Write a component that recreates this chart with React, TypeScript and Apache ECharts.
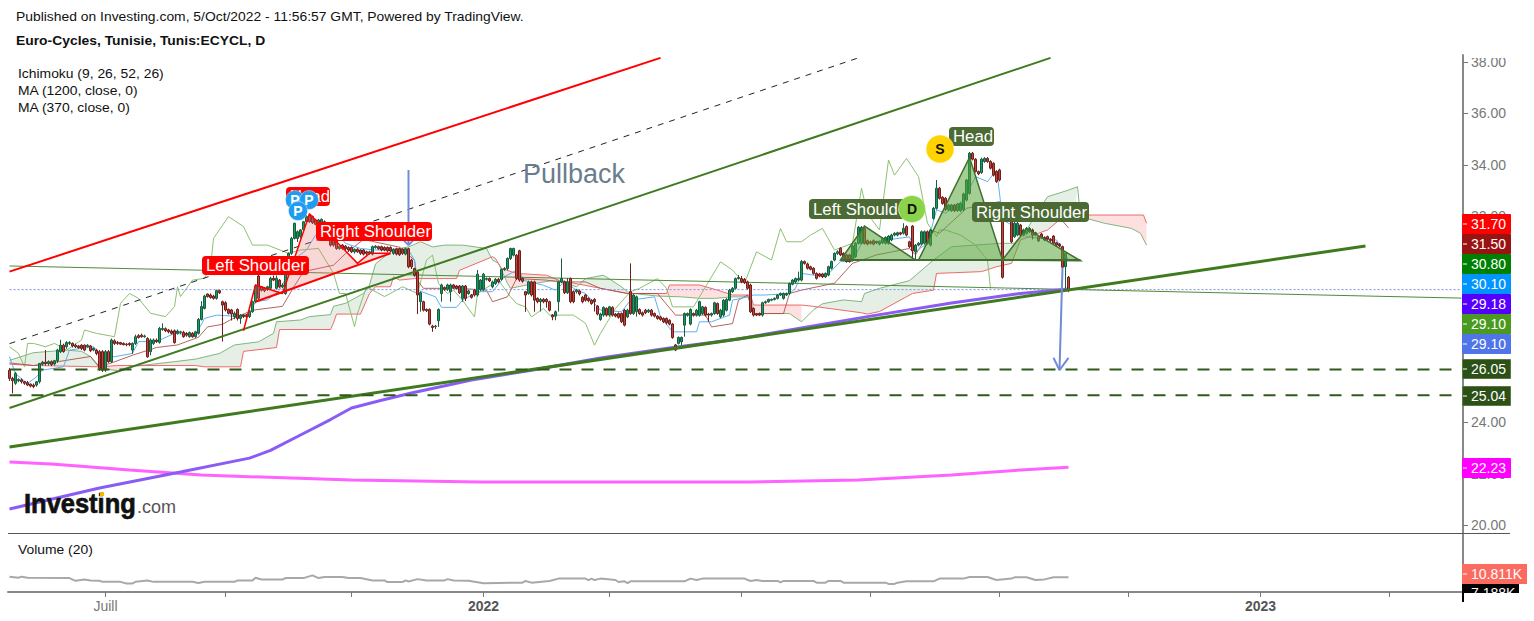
import React, { useEffect, useRef } from "react";
import * as echarts from "echarts";

// ---- x axis -----------------------------------------------------------
const SLOT_COUNT = 485;
const tickSlots = [32, 72, 114, 158, 200, 244, 287, 330, 373, 417, 460];
const slotLabels: Record<number, string> = { 32: "Juill", 158: "2022", 417: "2023" };

// ---- candles [open, close, low, high] ---------------------------------
const candles2021a = [
[26.02,25.7,25.6,26.1],[25.7,25.61,25.12,25.76],[25.51,25.89,25.45,25.95],[25.61,25.66,25.55,25.7],[25.64,25.57,25.5,25.7],[25.57,25.51,25.45,25.6],[25.53,25.44,25.4,25.6],[25.48,25.4,25.35,25.5],[25.44,25.38,25.32,25.5],[25.44,25.57,25.38,25.6],
[25.57,26.28,25.5,26.3],[26.26,26.33,26.2,26.38],[26.33,26.28,26.2,26.8],[26.28,26.35,26.2,26.4],[26.35,26.24,26.18,26.4],[26.26,26.39,26.2,26.42],[26.39,26.8,26.3,26.85],[26.74,26.99,26.68,27.2],[26.99,26.74,26.7,27.05],[26.93,27.09,26.85,27.15],
[27.06,27.09,27,27.15],[27.06,26.96,26.9,27.1],[26.99,26.93,26.88,27.05],[26.96,26.89,26.85,27],[26.99,26.87,26.8,27.03],[26.99,26.8,26.75,27.02],[26.93,26.99,26.9,27.03],[26.96,26.78,26.72,27],[26.8,26.87,26.75,26.9],[26.8,26.67,26.6,26.85],
[26.74,26.09,26,26.8],[26.74,26.02,25.95,26.8],[26.02,26.74,25.95,26.8],[26.74,26.35,26.3,26.8],[26.35,27.19,26.3,27.25],[27.16,27.06,27,27.22],[27.1,27.06,27,27.15],[27.09,27.03,27,27.12],[27.06,27.01,26.98,27.1],[27.03,27.01,26.95,27.08],
[27.06,27.01,26.95,27.1],[26.8,27.06,26.65,27.1],[27.06,27.32,27,27.4],[27.36,27.29,27.25,27.42],[27.38,27.32,27.28,27.44],[27.32,27.35,27.28,27.4],[27.25,26.54,26.5,27.3],[26.74,27.19,26.6,27.25],[27.06,27.19,27,27.25],[27.19,27.13,27.08,27.25],
[27.1,27.64,27.05,27.7],[27.6,27.64,27.55,27.84],[27.63,27.55,27.5,27.68],[27.58,27.51,27.45,27.62],[27.54,27.45,27.4,27.6],[27.55,27.09,27.05,27.6],[27.45,27.54,27.4,27.6],[27.49,27.51,27.42,27.55],[27.49,27.32,27.28,27.55],[27.45,27.38,27.32,27.5],
[27.32,27.48,27.28,27.52],[27.45,27.32,27.28,27.5],[27.32,27.51,27.28,27.55],[27.45,27.99,27.4,28.05],[27.99,28.49,27.95,28.7],[28.42,28.9,28.38,28.95],[28.98,28.88,28.84,29],[28.94,28.84,28.8,29],[28.9,28.81,28.76,28.95],[28.81,29.11,28.76,29.15],
[29.11,29.03,28.98,29.15],[28.68,28.55,27.13,28.72],[28.64,28.36,28.3,28.7],[28.38,28.23,28.18,28.42],[28.36,28.2,27.95,28.4],[28.1,28.23,28,28.3],[28.38,28.03,27.95,28.42],[28.03,28.16,27.82,28.2],[28.16,28.1,28.05,28.2],[28.15,28.1,28.05,28.2],
[28.1,28.29,28.05,28.35],[28.29,28.68,28.25,28.72],[28.68,29.29,28.62,29.35],[29.68,28.81,28.75,29.72],[29.26,29.13,29.08,29.3],[29.2,29.11,29.05,29.25],[29.16,29.26,29.1,29.3],[29.2,29.59,29.15,29.65],[29.59,29.52,29.48,29.7],[29.2,29.59,29.15,29.7],
[29.52,29.26,29.2,29.56],[29.26,29.33,29.2,29.4],[29,29.98,28.95,30.02],[29.98,30.56,29.95,30.6],[30.56,31.14,30.5,31.2],[31.14,31.73,31.1,31.75],[31.14,31.4,31,31.45],[31.21,31.47,31.15,31.5],[31.49,31.79,31.45,31.82],[31.79,31.99,31.75,32.05],
[32.05,31.79,31.75,32.1],[31.99,31.75,31.7,32.03],[31.86,31.69,31.65,31.9],[31.73,31.86,31.68,31.9],[31.73,31.88,31.68,31.92],[31.79,31.6,31.55,31.84],[31.6,31.27,31.22,31.65],[31.34,30.88,30.82,31.38],[31.14,30.88,30.82,31.18],[31.14,30.75,30.7,31.18],
[30.75,30.84,30.7,30.88],[30.88,30.75,30.7,30.92],[30.84,30.74,30.68,30.88],[30.79,30.69,30.62,30.83],[30.79,30.62,30.57,30.83],[30.62,30.72,30.55,30.75],[30.72,30.62,30.58,30.76],[30.69,30.56,30.5,30.72],[30.69,30.53,30.48,30.73],[30.62,30.56,30.5,30.66],
];
const candles2021b = [
[30.56,30.62,30.5,30.66],[30.53,30.82,30.48,30.86],[30.79,30.84,30.74,30.88],[30.82,30.74,30.7,30.86],[30.82,30.69,30.64,30.86],[30.79,30.69,30.64,30.83],[30.79,30.66,30.6,30.83],[30.79,30.65,30.6,30.83],[30.56,30.72,30.5,30.76],[30.74,30.53,30.48,30.78],
[30.74,30.51,30.46,30.78],[30.72,30.56,30.5,30.76],[30.53,30.74,30.48,30.78],[30.74,30.04,29.98,30.78],[30.3,30.04,29.95,30.35],[29.97,29.71,29.65,30],[29.84,28.94,28.2,29.9],[28.68,29.03,28.29,29.08],[28.68,28.35,28.3,28.72],[28.38,28.33,28.28,28.42],
[28.38,27.81,27.76,28.42],[27.73,27.68,27.51,27.78],[27.71,27.73,27.62,27.78],[27.94,28.38,27.7,28.42],[29,29.33,28.68,29.38],[29.23,29.16,29.1,29.27],[29.16,29.33,29.1,29.38],[29.07,29.33,28.68,29.38],[29.33,29.23,29.18,29.37],[29.29,29.2,29.15,29.33],
[29.29,29.03,28.98,29.33],[28.81,29.29,28.68,29.33],[29.29,28.81,28.7,29.33],[29,29.1,28.95,29.15],[28.94,28.85,28.8,28.98],[29.13,28.94,28.88,29.17],[28.94,29.75,28.88,29.91],[29.16,29.52,29.1,29.56],[29.16,29.75,29.1,29.8],[29.55,29.58,29.5,29.62],
[29.58,29.49,29.45,29.62],[29.26,29.45,29.2,29.5],[29.39,29.55,29.33,29.6],[29.55,29.45,29.4,29.6],[29.55,29.93,29.5,29.97],[29.93,29.97,29.88,30.02],[29.97,30.36,29.9,30.4],[30.36,30.75,30.3,30.78],[30.49,30.75,30.44,30.78],[30.49,29.58,29.52,30.53],
[30.66,29.52,29.46,30.7],[29.58,29.48,29.42,29.62],[29.07,28.94,28.29,29.1],[29,29.45,28.95,29.5],[29.45,28.94,28.88,29.5],[29.45,28.74,28.29,29.5],[28.81,28.68,28.62,28.85],[28.68,28.77,28.3,28.82],[28.77,28.68,28.62,28.82],[28.77,28.68,28.45,28.82],
];
const candles2022a = [
[28.68,28.35,28.3,28.72],[28.16,28.09,27.96,28.2],[28.12,28.29,27.96,28.34],[28.68,29.45,28.3,29.5],[29.45,29.58,29.4,30.36],[29.45,29.03,28.98,29.5],[29.03,29.45,28.98,29.6],[29.58,28.68,28.62,29.62],[29.07,28.68,28.62,29.12],[29.07,29.13,29,29.18],
[29.1,28.98,28.92,29.15],[28.85,28.68,28.62,28.9],[28.94,28.74,28.68,28.98],[28.81,28.72,28.66,28.85],[28.74,28.61,28.56,28.78],[28.77,28.68,28.3,28.82],[28.51,28.2,28.15,28.55],[27.99,28.2,27.94,28.25],[28.16,28.46,28.1,28.5],[28.42,28.16,28.1,28.46],
[28.16,28.48,28.1,28.52],[28.46,28.16,28.1,28.5],[28.2,28.12,28.07,28.24],[28.22,28.07,28.02,28.26],[28.22,27.9,27.85,28.26],[28.35,27.77,27.72,28.4],[28.09,28.35,28.04,28.4],[29.07,28.22,28.17,30.17],[28.22,28.94,28.17,28.98],[28.29,28.87,28.1,28.92],
[28.38,28.22,28.17,28.42],[28.25,28.16,28.1,28.3],[28.35,28.25,28.2,28.4],[28.29,28.35,28.24,28.4],[28.35,28.16,28.1,28.4],[28.22,28.12,28.07,28.26],[28.12,28.03,27.98,28.16],[28.09,27.99,27.94,28.13],[28.03,27.9,27.85,28.07],[28.03,27.86,27.8,28.07],
[27.96,27.81,27.76,28],[27.81,27.29,27.24,27.85],[27,26.8,26.76,27.04],[27.06,27.29,27.02,27.33],[27.12,27.29,27,27.33],[27.77,28.22,27.32,28.26],[28.16,28.22,28.1,28.26],[27.81,28.38,27.76,28.42],[28.22,28.16,28.1,28.26],[28.16,28.35,28.1,28.4],
[28.16,28.68,28.1,28.72],[28.22,28.48,28.17,28.52],[28.46,28.16,28.1,28.5],[28.2,28.16,27.9,28.25],[28.16,28.22,28.1,28.26],[28.22,28.64,28.17,28.68],[28.61,28.22,28.17,28.65],[28.09,28.35,28.04,28.4],[28.16,28.74,28.1,28.78],[28.35,28.77,28.3,28.82],
[28.74,29.13,28.7,29.18],[29.07,29.2,29.02,29.25],[29.2,29.58,29.15,29.62],[29.58,29.62,29.54,29.72],[29.58,29.45,29.4,29.68],[29.55,29.42,29.37,29.6],[29.45,29.2,29.15,29.5],[29.33,28.29,28.24,29.38],[28.42,28.16,28.1,28.46],[28.2,28.16,28.12,28.24],
[28.22,28.16,28.12,28.26],[28.16,28.64,28.1,28.68],[28.64,28.68,28.6,28.72],[28.68,28.77,28.64,28.8],[28.74,28.77,28.7,28.8],[28.77,28.81,28.73,28.85],[28.81,28.94,28.77,28.98],[28.94,29,28.9,29.04],[28.81,29,28.76,29.04],[28.94,29,28.9,29.04],
[29,29.39,28.95,29.43],[29.36,29.52,29.32,29.56],[29.45,29.58,29.4,29.62],[29.52,29.58,29.48,29.85],
];
const candles2022b = [
[29.52,30.24,29.47,30.3],[30.24,30.17,30.12,30.28],[30.15,29.98,29.93,30.2],[30.04,29.94,29.9,30.08],[29.98,29.78,29.73,30.02],[29.78,29.59,29.54,29.82],[29.76,29.68,29.63,29.8],[29.76,29.65,29.6,29.8],[29.65,29.78,29.6,29.82],[29.72,30.04,29.67,30.08],
[29.98,30.24,29.93,30.28],[30.3,30.56,30.25,30.6],[30.56,30.62,30.5,30.68],[30.76,30.5,30.45,30.8],[30.56,30.3,30.25,30.6],[30.5,30.24,30.2,30.54],[30.5,30.24,30.2,30.54],[30.3,30.85,30.25,30.9],[30.43,30.95,30.38,31],[30.95,31.57,30.9,31.62],
[30.95,31.57,30.9,31.62],[31.53,30.95,30.9,31.58],[31.05,30.92,30.87,31.1],[31.01,30.95,30.9,31.06],[31.05,30.92,30.87,31.1],[31.01,30.97,30.92,31.05],[30.92,31.01,30.87,31.05],[30.97,31.14,30.92,31.18],[30.95,31.18,30.9,31.22],[30.95,31.23,30.9,31.27],
[31.08,31.27,31.03,31.32],[31.27,31.34,31.22,31.38],[31.27,31.36,31.22,31.4],[31.36,31.31,31.26,31.4],[31.34,31.53,31.29,31.73],[31.6,31.27,31.22,31.65],[31.01,30.82,30.77,31.05],[31.62,30.66,30.3,31.66],[30.62,30.88,30.3,30.92],[30.88,30.95,30.83,31],
[30.92,31.4,30.87,31.45],[30.95,31.4,30.9,31.45],[31.4,30.95,30.9,31.45],[30.88,31.47,30.83,31.52],[31.92,32.31,31.87,32.36],[32.31,33.09,32.26,33.41],[33.09,32.7,32.65,33.14],[32.74,32.5,32.45,32.78],[32.7,32.27,32.2,32.75],[32.25,32.44,32.2,32.48],
[32.22,32.44,32.17,32.48],[32.44,32.22,32.17,32.48],[32.22,32.48,32.17,32.52],[32.22,32.5,32.17,32.55],[32.25,32.87,32.2,32.92],[32.63,33.41,32.58,33.45],[32.89,34.45,32.84,34.5],[34.45,34.22,34.17,34.5],[34.22,33.74,33.7,34.26],[33.74,33.65,33.6,33.78],
[33.7,34.22,33.65,34.28],[34.13,34.25,34.08,34.3],[34.25,34.13,34.08,34.3],[34.13,33.87,33.82,34.18],[34.06,33.6,33.55,34.1],[33.74,33.35,33.3,33.78],[33.8,33.41,33.36,33.85],[32.31,29.63,29.58,32.35],[32.31,32.05,32,32.35],[32.05,31.86,31.8,32.1],
[31.86,31.01,30.96,31.9],[31.21,31.73,31.16,31.78],[31.27,31.73,31.22,31.78],[31.66,31.27,31.22,31.7],[31.27,31.47,31.22,31.52],[31.34,31.53,31.29,31.58],[31.4,31.53,31.35,31.58],[31.47,31.27,31.1,31.52],[31.27,31.36,31.22,31.4],[31.21,31.05,31,31.25],
[31.31,31.18,31.13,31.35],[31.18,31.08,31.03,31.22],[31.21,31.11,31.06,31.25],[31.11,31.05,31,31.15],[31.23,30.95,30.9,31.27],[30.97,30.88,30.83,31.01],[30.92,30.85,30.8,30.96],[30.82,30.02,29.97,30.86],[30.04,30.56,29.2,30.6],[29.63,29.14,29.05,29.68],
];

// ---- Ichimoku vertices [slot, price] ----------------------------------
const laggingSpan = [[0,26.93],[3,26.67],[5,26.15],[6,27.06],[8,27.06],[12,26.93],[15,27.06],[19,26.8],[24,27.19],[25,27.58],[29,27.45],[35,27.32],[37,28.62],[40,29],[43,28.81],[47,28.23],[52,28.1],[55,28.49],[56,29.26],[57,28.88],[61,29.52],[65,29.59],[67,30.04],[68,31.14],[73,31.99],[78,31.6],[81,30.88],[86,30.88],[93,30.56],[97,30.69],[103,30.75],[108,29.78],[110,29],[112,29],[115,27.71],[116,28.23],[119,29.26],[125,28.88],[131,29.26],[136,29],[139,30.3],[141,30.49],[143,29.39],[146,29],[148,29.13],[151,28.74],[155,28.09],[156,29],[163,29.52],[167,28.87],[169,28.61],[172,28.48],[174,28.09],[178,28.42],[180,28.16],[188,28.16],[192,27.84],[195,26.99],[197,27.45],[199,27.84],[202,28.42],[207,29.07],[210,29.2],[216,29.58],[219,29.2],[221,28.48],[228,28.48],[233,29.45],[237,30.23],[241,29.91],[245,29.39],[249,30.62],[254,30.3],[257,31.53],[259,31.01],[264,31.01],[267,31.27],[271,31.53],[275,30.69],[281,30.95],[284,33.09],[286,32.1],[290,31.47],[293,34.19],[295,33.6],[299,34.25],[303,33.54],[306,31.73],[309,31.21],[310,31.47],[312,31.47],[317,31.27],[322,30.88],[326,30.3],[327,29.2]];
const conversionLine = [[0,26.54],[2,25.88],[6,25.5],[9,25.76],[11,26.02],[18,26.15],[20,26.8],[28,26.93],[30,26.67],[35,26.54],[41,26.67],[43,27.13],[49,27.13],[55,27.45],[62,27.38],[65,28.03],[69,28.16],[77,28.1],[80,28.23],[82,28.68],[86,28.75],[90,29.13],[96,30.43],[99,30.69],[102,31.27],[108,31.47],[112,30.95],[117,30.75],[122,30.69],[133,30.69],[135,30.3],[136,29.13],[142,28.87],[144,28.46],[149,28.46],[151,28.74],[156,29.07],[161,29.07],[165,29.65],[170,29.97],[171,29.52],[178,29.32],[182,29.13],[185,29.45],[189,29.13],[192,29],[197,28.35],[204,28.29],[207,28.74],[215,28.87],[217,28.09],[221,27.51],[229,27.51],[230,27.9],[234,27.9],[240,28.16],[241,28.74],[246,28.87],[248,28.94],[252,28.94],[260,29],[262,29.2],[264,29.78],[272,29.65],[277,30.24],[281,30.24],[284,30.95],[300,31.2],[302,30.63],[306,30.95],[309,32.25],[312,32.12],[318,32.63],[322,33.54],[326,33.35],[329,33.8],[330,32.9],[331,31.86],[335,31.6],[339,31.2],[349,31.08],[353,30.3]];
const baseLine = [[0,26.3],[8,26.2],[27,26.55],[30,26.15],[34,26.3],[41,26.6],[49,26.9],[56,27],[63,27.3],[66,27.7],[71,27.8],[74,28],[81,28.35],[91,28.5],[95,29.3],[98,29.85],[108,30.1],[112,30.55],[118,31.1],[130,30.8],[135,30.3],[136,29.5],[138,29.2],[150,29.2],[159,29.13],[161,28.68],[166,28.87],[169,29.58],[179,29.52],[183,29.45],[192,29.45],[197,29.2],[206,29],[216,29],[222,28.16],[232,28.16],[234,27.7],[241,27.83],[243,28.74],[246,28.94],[248,28.22],[258,28.22],[260,29],[264,29.13],[275,29.4],[281,30.17],[289,30.5],[300,30.75],[302,30.5],[307,31.47],[310,31.34],[319,32.31],[330,32.57],[334,31.99],[344,31.98],[350,31.95],[353,31.55]];
const leadingSpanA = [[0,26.4],[8,26.7],[19,26.8],[24,26.75],[27,26.55],[30,26.1],[36,26],[40,26.15],[55,26.35],[62,26.45],[70,26.67],[75,27],[83,27.12],[88,27.45],[89,27.9],[97,27.97],[100,28.1],[107,28.18],[108,28.5],[112,28.62],[118,29],[120,29.33],[122,30.15],[127,30.62],[130,30.75],[133,30.81],[137,31.01],[141,30.81],[145,30.88],[151,30.88],[159,30.75],[161,30.3],[163,30.17],[166,29.39],[167,29.2],[175,29.39],[182,29.52],[189,29.26],[192,29.58],[198,29.71],[204,29.26],[206,29.07],[208,29],[216,28.9],[224,28.87],[230,28.81],[235,28.81],[241,28.87],[247,28.87],[248,28.22],[260,28.22],[264,27.9],[268,28.36],[271,28.6],[278,28.75],[284,28.68],[285,29],[290,29.2],[300,29.5],[308,30.3],[314,30.82],[322,30.88],[330,30.95],[335,30.95],[339,31.47],[346,32.76],[353,33.02],[356,33.15],[357,31.98],[365,31.73],[374,31.53],[377,31.34],[379,30.88]];
const leadingSpanB = [[0,26.25],[8,26.2],[30,26.15],[36,26.2],[62,26.2],[65,26.15],[77,26.15],[78,26.75],[89,26.9],[90,27.6],[107,27.6],[108,27.85],[109,28.2],[117,28.2],[120,29],[122,29.26],[127,29.26],[128,29.65],[130,29.52],[135,29.58],[149,29.58],[150,29.9],[161,30.43],[162,30.36],[164,29.97],[169,29.78],[179,29.71],[183,29.52],[186,29.45],[197,29.2],[206,29],[208,29],[219,29],[220,29.33],[230,29.33],[236,29.13],[241,28.94],[247,28.94],[248,28.55],[264,28.55],[268,28.5],[284,28.25],[286,28.2],[290,28.3],[301,29],[308,29.13],[309,29.78],[324,29.85],[329,30.04],[334,30.17],[337,31.08],[346,31.47],[350,31.86],[355,32.05],[357,32.05],[378,32.05],[379,31.73]];
const cloudGreenRanges = [[0, 30], [40, 163], [183, 206], [266, 356]];
const cloudRedRanges = [[30, 40], [163, 183], [206, 266], [357, 379]];

// ---- moving averages, volume ------------------------------------------
const ma1200 = [[0,20.62],[30,21.44],[57,22.06],[80,22.6],[87,22.9],[97,23.5],[107,24.1],[114,24.55],[124,24.85],[134,25.13],[154,25.64],[174,26.02],[197,26.49],[220,26.88],[243,27.23],[263,27.64],[287,28.12],[314,28.63],[337,29],[353,29.17]];
const ma370 = [[0,22.45],[14,22.37],[40,22.14],[64,21.94],[114,21.75],[157,21.67],[247,21.67],[283,21.75],[314,21.94],[337,22.14],[353,22.25]];
const volumeMa = [[0,11.8],[3,11],[4,11.8],[6,10.9],[20,10.7],[22,8.6],[25,9.6],[27,8.9],[30,8.6],[31,7.8],[37,7.8],[39,6.6],[41,6.6],[42,7.8],[46,8.9],[48,7.8],[61,7.8],[63,7],[65,7.8],[75,7.8],[76,8.9],[81,8.9],[82,10.9],[84,9.6],[91,9.6],[92,10.7],[98,10.7],[101,12.8],[103,10.7],[105,11.6],[111,11.6],[113,10.7],[117,10.7],[121,8.9],[125,8.9],[126,7.6],[131,7.6],[132,8.9],[133,8.1],[136,9.9],[139,8.9],[145,8.9],[146,9.9],[148,8.9],[153,8.6],[158,6.8],[163,7],[171,7.2],[172,8.5],[174,7.2],[180,8.5],[183,10.3],[192,10.3],[193,9.2],[194,10.3],[195,9.2],[197,10.3],[202,9.2],[203,7.7],[205,8.2],[206,6.9],[207,8.2],[225,8.2],[227,10.3],[229,9.2],[231,10.3],[245,10.3],[247,8.5],[249,9.2],[251,8.5],[256,8.5],[257,7.4],[258,8.5],[268,8.5],[269,7.2],[272,7.2],[273,8.5],[277,8.5],[278,7.2],[292,7.2],[293,6.2],[295,6.2],[296,7.2],[299,8.2],[308,8.2],[310,10.3],[318,10.3],[320,11.5],[326,11.5],[329,9.2],[334,10.3],[335,11.3],[339,11.3],[342,9.2],[345,9.7],[348,11.3],[353,11.3]];

// ---- drawings ---------------------------------------------------------
const redTrend = [[0,29.85],[217,38.16]];
const blackDashed = [[0,27.05],[283,38.16]];
const greenChannel = [[0,24.55],[347,38.16]];
const thinGreen = [[0,30.07],[484,28.82]];
const thickGreen = [[0,23.03],[452,30.85]];
const support1 = [[0,26.05],[484,26.05]];
const support2 = [[0,25.04],[484,25.04]];
const lastPrice = [[0,29.15],[484,29.15]];
const arrow1 = [[133,33.8],[133,30.88]];
const arrow1Head = [[130,31.23],[133,30.88],[136,31.23]];
const arrow2 = [[351,30.0],[350,26.02]];
const arrow2Head = [[348,26.5],[350,26.02],[353,26.5]];

const redShoulderL = [[82,29.33],[91,29],[82,28.68]];
const redHeadShape = [[91,29],[100,32.1],[116,30.17]];
const redShoulderR = [[116,30.17],[120,30.56],[127,30.56]];
const redRise = [[78,27.55],[82,29.33],[91,29],[100,32.1],[116,30.17],[120,30.56],[127,30.56]];
const redNeck = [[82,28.68],[127,30.56]];
const greenShoulderL = [[277,30.3],[285,31.62],[302,30.3]];
const greenHeadShape = [[303,30.3],[320,34.29],[331,30.3]];
const greenShoulderR = [[331,30.3],[339,31.53],[357,30.27]];
const greenNeck = [[277,30.3],[357,30.3]];

const allCandles = [...candles2021a, ...candles2021b, ...candles2022a, ...candles2022b];
const categories = Array.from({ length: SLOT_COUNT }, (_, i) => slotLabels[i] ?? "");
const FONT = "'Liberation Sans', Arial, sans-serif";

const line = (data: number[][], color: string, width = 1, z = 5, type: any = "solid", opacity = 1, ax = 0) => ({
  type: "line", data, xAxisIndex: ax, yAxisIndex: ax, showSymbol: false, symbol: "none", silent: true, z,
  lineStyle: { color, width, type, opacity, cap: "butt" },
});

const polygon = (pts: number[][], fill: string, stroke: string | null, z: number, lineWidth = 1.5) => ({
  type: "custom", xAxisIndex: 0, yAxisIndex: 0, silent: true, z, data: [[pts[0][0], pts[0][1]]],
  renderItem: (_: any, api: any) => ({
    type: "polygon",
    shape: { points: pts.map((p) => api.coord(p)) },
    style: { fill, stroke: stroke ?? "none", lineWidth },
  }),
});

const cloudShape = (from: number, to: number, fill: string) => {
  const inside = (p: number[]) => p[0] >= from && p[0] <= to;
  return polygon([...leadingSpanA.filter(inside), ...leadingSpanB.filter(inside).reverse()], fill, null, 1);
};

const priceTags = [
  ["31.70", 214, "#ff0000", "#ff0000"], ["31.50", 234, "#9a1313", "#9a1313"], ["30.80", 254, "#008000", "#008000"], ["30.10", 274, "#0094ff", "#0094ff"],
  ["29.18", 294, "#5500ff", "#5500ff"], ["29.10", 314, "#4a9a1f", "#4a9a1f"], ["29.10", 334, "#4f75e8", "#4f75e8"], ["26.05", 359, "#2c5016", "#567a40"],
  ["25.04", 386, "#2c5016", "#567a40"], ["22.23", 458, "#ff00ff", "#ff00ff"],
] as [string, number, string, string][];

const WIDE = 1.068;
const txt = (text: string, x: number, y: number, font: string, fill: string, scaleX = 1) => ({
  type: "text", x, y, z: 100, scaleX, style: { text, font, fill, textVerticalAlign: "middle" },
});

const tag = (text: string, x: number, y: number, w: number, h: number, fill: string, z = 90) => [
  { type: "rect", z, shape: { x, y, width: w, height: h, r: 4 }, style: { fill } },
  { type: "text", z: z + 1, x: x + 4, y: y + h / 2, style: { text, font: `16.8px ${FONT}`, fill: "#fff", textVerticalAlign: "middle" } },
];

const disc = (ch: string, x: number, y: number, r: number, fill: string, color: string, size: number, z: number) => [
  { type: "circle", z, shape: { cx: x, cy: y, r }, style: { fill, stroke: "rgba(255,255,255,0.4)", lineWidth: 1 } },
  { type: "text", z: z + 1, x, y, style: { text: ch, font: `bold ${size}px ${FONT}`, fill: color, textAlign: "center", textVerticalAlign: "middle" } },
];

export default function App() {
  const ref = useRef<HTMLDivElement>(null);
  useEffect(() => {
    const chart = echarts.init(ref.current!, undefined, { renderer: "svg" });
    const graphics: any[] = [
      txt("Published on Investing.com, 5/Oct/2022 - 11:56:57 GMT, Powered by TradingView.", 16, 17, `13px ${FONT}`, "#111", WIDE),
      txt("Euro-Cycles, Tunisie, Tunis:ECYCL, D", 16, 41, `bold 13px ${FONT}`, "#111", WIDE),
      txt("Ichimoku (9, 26, 52, 26)", 18, 74, `13px ${FONT}`, "#111", WIDE),
      txt("MA (1200, close, 0)", 18, 91, `13px ${FONT}`, "#111", WIDE),
      txt("MA (370, close, 0)", 18, 108, `13px ${FONT}`, "#111", WIDE),
      txt("Volume (20)", 18, 550, `13px ${FONT}`, "#111", WIDE),
      txt("Pullback", 523, 174, `27px ${FONT}`, "#6a7d8e"),
      { type: "text", z: 100, x: 24, y: 504, scaleX: 0.91, style: { text: "Investing", font: `bold 28px ${FONT}`, fill: "#111", stroke: "#111", lineWidth: 0.7, textVerticalAlign: "middle" } },
      txt(".com", 137, 507, `18px ${FONT}`, "#555"),
      { type: "rect", z: 101, shape: { x: 100, y: 492, width: 4, height: 4 }, style: { fill: "#f5b800" } },
      { type: "line", z: 50, shape: { x1: 8, y1: 533.5, x2: 1510, y2: 533.5 }, style: { stroke: "#555", lineWidth: 1 } },
      { type: "rect", z: 60, shape: { x: 1466, y: 48, width: 60, height: 10 }, style: { fill: "#fff" } },
      ...tag("Left Shoulder", 202, 256, 107, 19, "#ff0000"),
      ...tag("Head", 286, 187, 44, 19, "#ff0000"),
      ...tag("Right Shoulder", 316, 222, 116, 19, "#ff0000"),
      ...tag("Left Shoulder", 809, 199, 112, 20, "#4c6b34"),
      ...tag("Head", 949, 127, 45, 19, "#4c6b34"),
      ...tag("Right Shoulder", 972, 202, 117, 20, "#4c6b34"),
      ...disc("P", 295, 200, 9.5, "#1f9cf0", "#fff", 14, 93),
      ...disc("P", 309, 200, 9.5, "#1f9cf0", "#fff", 14, 93),
      ...disc("P", 298, 211, 9.5, "#1f9cf0", "#fff", 14, 95),
      ...disc("D", 912, 209, 13.5, "#8bd44a", "#111", 14, 93),
      ...disc("S", 940, 149, 14, "#ffd200", "#111", 14, 93),
    ];
    priceTags.forEach(([label, y, fill, edge]) => {
      graphics.push(
        { type: "rect", z: 110, shape: { x: 1462.5, y: y + 0.5, width: 48, height: 19 }, style: { fill, stroke: edge, lineWidth: 1 } },
        { type: "line", z: 111, shape: { x1: 1463, y1: y + 10, x2: 1467, y2: y + 10 }, style: { stroke: "#fff", lineWidth: 1 } },
        { type: "text", z: 111, x: 1471, y: y + 10, style: { text: label, font: `14px ${FONT}`, fill: "#fff", textVerticalAlign: "middle" } },
      );
    });
    graphics.push(
      { type: "rect", z: 110, shape: { x: 1462, y: 584, width: 57, height: 18 }, style: { fill: "#000" } },
      { type: "text", z: 111, x: 1471, y: 593, style: { text: "7.188K", font: `14px ${FONT}`, fill: "#fff", textVerticalAlign: "middle" } },
      { type: "rect", z: 112, shape: { x: 1464, y: 593, width: 70, height: 9 }, style: { fill: "#fff" } },
      { type: "rect", z: 112, shape: { x: 1462, y: 564, width: 65, height: 20 }, style: { fill: "#fb6b5f" } },
      { type: "line", z: 113, shape: { x1: 1463, y1: 574, x2: 1467, y2: 574 }, style: { stroke: "#fff", lineWidth: 1 } },
      { type: "text", z: 113, x: 1471, y: 574, style: { text: "10.811K", font: `14px ${FONT}`, fill: "#fff", textVerticalAlign: "middle" } },
    );

    chart.setOption({
      animation: false,
      backgroundColor: "#fff",
      grid: [
        { left: 8, width: 1455, top: 55, height: 478 },
        { left: 8, width: 1455, top: 534, height: 58 },
      ],
      xAxis: [
        { type: "category", gridIndex: 0, data: categories, show: false },
        {
          type: "category", gridIndex: 1, data: categories, position: "bottom",
          axisLine: { show: true, lineStyle: { color: "#888", width: 2 } },
          axisTick: { show: true, alignWithLabel: true, length: 5, lineStyle: { color: "#777" }, interval: (i: number) => tickSlots.includes(i) },
          axisLabel: {
            color: "#777", fontSize: 14, fontFamily: "Liberation Sans", margin: 7,
            interval: (i: number) => !!slotLabels[i], hideOverlap: false,
            formatter: (v: string) => (v.startsWith("20") ? `{b|${v}}` : v),
            rich: { b: { fontWeight: "bold", fontSize: 14, color: "#555", fontFamily: "Liberation Sans" } },
          },
          splitLine: { show: false },
        },
      ],
      yAxis: [
        {
          type: "value", gridIndex: 0, position: "right", min: 19.69, max: 38.27, scale: true,
          axisLine: { show: true, lineStyle: { color: "#888", width: 2 } },
          axisTick: { show: true, length: 5, lineStyle: { color: "#777" }, customValues: [20, 22, 24, 26, 28, 30, 32, 34, 36, 38] },
          axisLabel: {
            color: "#777", fontSize: 14, fontFamily: "Liberation Sans", margin: 8,
            customValues: [20, 22, 24, 26, 28, 30, 32, 34, 36, 38],
            formatter: (v: number) => v.toFixed(2),
          },
          splitLine: { show: false },
        },
        {
          type: "value", gridIndex: 1, position: "right", min: 0, max: 44.6,
          axisLine: { show: true, lineStyle: { color: "#888", width: 2 } },
          axisTick: { show: false }, axisLabel: { show: false }, splitLine: { show: false },
        },
      ],
      series: [
        ...cloudGreenRanges.map(([a, b]) => cloudShape(a, b, "rgba(70,140,70,0.14)")),
        ...cloudRedRanges.map(([a, b]) => cloudShape(a, b, "rgba(255,70,70,0.17)")),
        line(leadingSpanA, "#7fb77e", 1, 2),
        line(leadingSpanB, "#ee6a6a", 1, 2),
        line(laggingSpan, "#8dc070", 1, 3),
        line(baseLine, "#a84a45", 1, 3, "solid", 0.85),
        line(conversionLine, "#5db1f0", 1, 3),
        line(lastPrice, "#7f93e6", 1, 4, [2, 2]),
        line(thinGreen, "#4f8a3a", 1, 4),
        line(ma370, "#ff62ff", 3, 4),
        line(ma1200, "#8a5cf6", 3, 4),
        {
          type: "candlestick", xAxisIndex: 0, yAxisIndex: 0, data: allCandles, barWidth: 3, silent: true, z: 6,
          itemStyle: { color: "#0f9d63", color0: "#c0453f", borderColor: "#1c5c3e", borderColor0: "#6f1f1a", borderWidth: 1 },
        },
        line(redTrend, "#ff0000", 2, 7),
        line(blackDashed, "#222222", 1, 7, [6, 6]),
        line(greenChannel, "#3f7a1f", 2, 7),
        line(thickGreen, "#3f7a1f", 3, 7),
        line(support1, "#2f5a1a", 2, 7, [12, 10]),
        line(support2, "#2f5a1a", 2, 7, [12, 10]),
        polygon(redShoulderL, "rgba(230,110,110,0.28)", null, 8),
        polygon(redHeadShape, "rgba(230,110,110,0.28)", null, 8),
        polygon(redShoulderR, "rgba(230,110,110,0.28)", null, 8),
        line(redRise, "#ff0000", 1.5, 9),
        line(redNeck, "#ff0000", 2, 9),
        polygon(greenShoulderL, "rgba(90,165,60,0.55)", "#3f6f2e", 8),
        polygon(greenHeadShape, "rgba(90,165,60,0.55)", "#3f6f2e", 8),
        polygon(greenShoulderR, "rgba(90,165,60,0.55)", "#3f6f2e", 8),
        line(greenNeck, "#3f6f2e", 2, 9),
        line(arrow1, "#6f8cd6", 2, 10),
        line(arrow1Head, "#6f8cd6", 2, 10),
        line(arrow2, "#6f8cd6", 2, 10),
        line(arrow2Head, "#6f8cd6", 2, 10),
        line(volumeMa, "#a8a8a8", 2, 5, "solid", 1, 1),
      ],
      graphic: { elements: graphics },
    });
    return () => chart.dispose();
  }, []);
  return <div ref={ref} style={{ position: "fixed", left: 0, top: 0, width: 1534, height: 621 }} />;
}
